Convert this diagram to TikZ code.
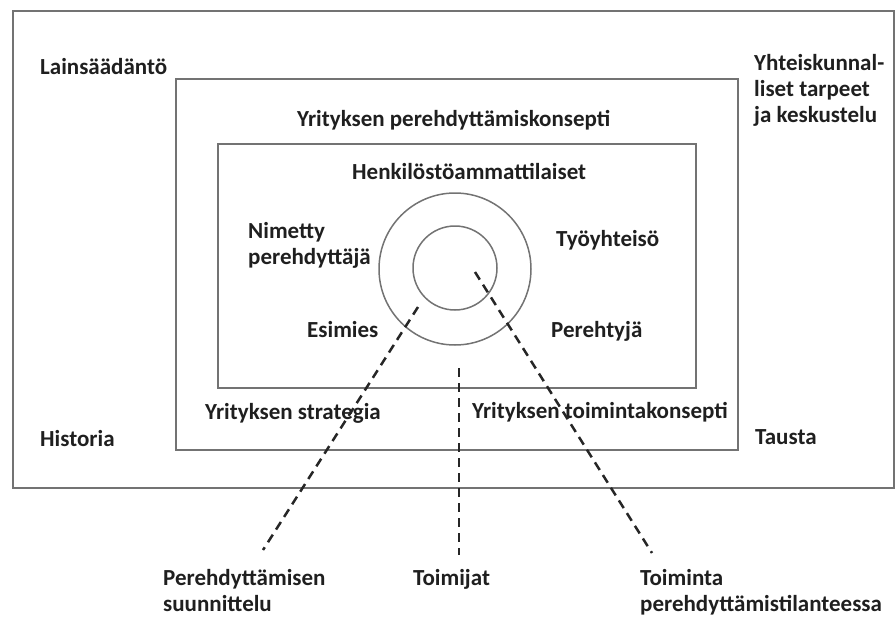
\documentclass[tikz,border=0pt]{standalone}
\usepackage{fontspec}
\setmainfont{Carlito}
\begin{document}
\begin{tikzpicture}[x=1pt,y=-1pt,
  frame/.style={draw=black!55, line width=1.5pt, fill=none, inner sep=0pt, anchor=north west},
  ring/.style={circle, draw=black!55, line width=1.5pt, inner sep=0pt},
  lbl/.style={font=\fontsize{23}{26}\selectfont\bfseries, text=black!88, inner sep=0pt, anchor=base west, align=left},
  dashline/.style={draw=black!85, line width=2.5pt, dash pattern=on 9pt off 6pt}]
\useasboundingbox (0,0) rectangle (895,624);
% frames
\node[frame, minimum width=881pt, minimum height=477pt] (outerbox) at (12,10) {};
\node[frame, minimum width=562pt, minimum height=371pt] (midbox) at (175,78) {};
\node[frame, minimum width=478pt, minimum height=244pt] (innerbox) at (217,143) {};
% circles
\node[ring, minimum size=152pt] (outerring) at (455,269) {};
\node[ring, minimum size=84pt] (innerring) at (455,268) {};
% labels
\node[lbl] (lain) at (40,74) {Lainsäädäntö};
\node[lbl] (yht) at (754,122) {Yhteiskunnal-\\liset tarpeet\\ja keskustelu};
\node[lbl] (konsepti) at (297,126) {Yrityksen perehdyttämiskonsepti};
\node[lbl] (henk) at (352,179) {Henkilöstöammattilaiset};
\node[lbl] (nimetty) at (248,264) {Nimetty\\perehdyttäjä};
\node[lbl] (tyo) at (556,246) {Työyhteisö};
\node[lbl] (esimies) at (307,337) {Esimies};
\node[lbl] (pereh) at (551,337) {Perehtyjä};
\node[lbl] (strat) at (205,419) {Yrityksen strategia};
\node[lbl] (toimk) at (472,418) {Yrityksen toimintakonsepti};
\node[lbl] (hist) at (40,446) {Historia};
\node[lbl] (tausta) at (755,444) {Tausta};
\node[lbl] (suun) at (163,611) {Perehdyttämisen\\suunnittelu};
\node[lbl] (toimijat) at (413,585) {Toimijat};
\node[lbl] (toiminta) at (640,611) {Toiminta\\perehdyttämistilanteessa};
% dashed connectors
\coordinate (l1a) at (418,307);
\coordinate (l1b) at (263,550);
\coordinate (l2a) at (459,368);
\coordinate (l2b) at (459,555);
\coordinate (l3a) at (475,272);
\coordinate (l3b) at (652,553);
\draw[dashline] (l1a) -- (l1b);
\draw[dashline] (l2a) -- (l2b);
\draw[dashline] (l3a) -- (l3b);
\end{tikzpicture}
\end{document}
